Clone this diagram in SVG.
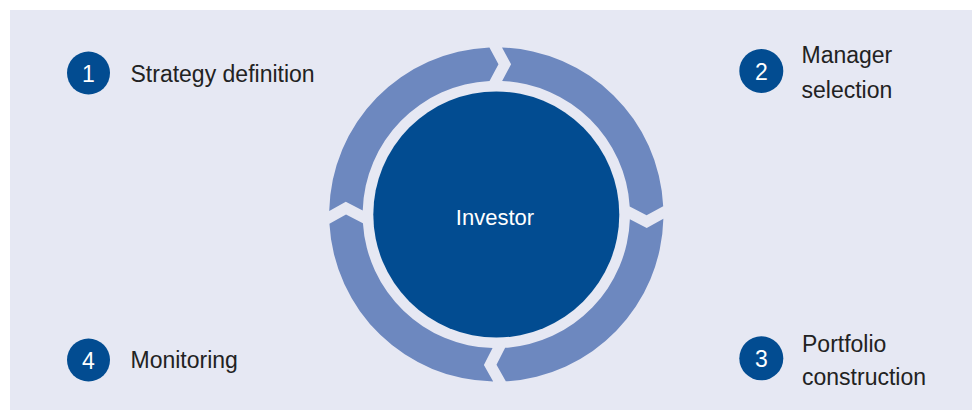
<svg xmlns="http://www.w3.org/2000/svg" width="972" height="415" viewBox="0 0 972 415">
<style>
.bg{fill:#e6e8f3}
.seg{fill:#6d88bf}
.core{fill:#024c91}
.num{fill:#024c91}
.lbl{font-family:"Liberation Sans",Arial,sans-serif;font-size:23px;fill:#222}
.ntx{font-family:"Liberation Sans",Arial,sans-serif;font-size:23px;fill:#fff;text-anchor:middle}
.ctx{font-family:"Liberation Sans",Arial,sans-serif;font-size:22px;fill:#fff;text-anchor:middle}
</style>
<rect class="bg" x="10" y="10" width="962" height="400"/>
<g id="cycle">
<path class="seg" d="M502.02,47.48 A167,167 0 0 1 663.21,206.16 L646.57,215.36 L629.71,206.57 A133.5,133.5 0 0 0 502.13,80.98 L511.08,64.20 Z"/>
<path class="seg" d="M663.37,218.76 A167,167 0 0 1 505.81,381.35 L496.49,364.77 L505.16,347.86 A133.5,133.5 0 0 0 629.87,219.17 L646.73,227.96 Z"/>
<path class="seg" d="M493.21,381.59 A167,167 0 0 1 329.44,223.71 L346.02,214.42 L362.93,223.13 A133.5,133.5 0 0 0 492.56,348.1 L483.89,365.01 Z"/>
<path class="seg" d="M329.22,211.12 A167,167 0 0 1 489.42,47.52 L498.48,64.24 L489.53,81.02 A133.5,133.5 0 0 0 362.71,210.53 L345.80,201.82 Z"/>
</g>
<g id="investor">
<circle class="core" cx="496.3" cy="214.5" r="123"/>
<text class="ctx" x="495" y="225">Investor</text>
</g>
<g id="step1">
<circle class="num" cx="88.5" cy="73" r="21.5"/>
<text class="ntx" x="88.5" y="81.5">1</text>
<text class="lbl" x="130.5" y="81.5">Strategy definition</text>
</g>
<g id="step2">
<circle class="num" cx="761.3" cy="71" r="22"/>
<text class="ntx" x="761.3" y="79.5">2</text>
<text class="lbl" x="801.5" y="63.3">Manager</text>
<text class="lbl" x="801.5" y="98.3">selection</text>
</g>
<g id="step3">
<circle class="num" cx="761.3" cy="358.3" r="22"/>
<text class="ntx" x="761.3" y="366.8">3</text>
<text class="lbl" x="802" y="351.7">Portfolio</text>
<text class="lbl" x="802" y="385">construction</text>
</g>
<g id="step4">
<circle class="num" cx="88.5" cy="360" r="21.5"/>
<text class="ntx" x="88.5" y="368.5">4</text>
<text class="lbl" x="130.5" y="368">Monitoring</text>
</g>
</svg>
